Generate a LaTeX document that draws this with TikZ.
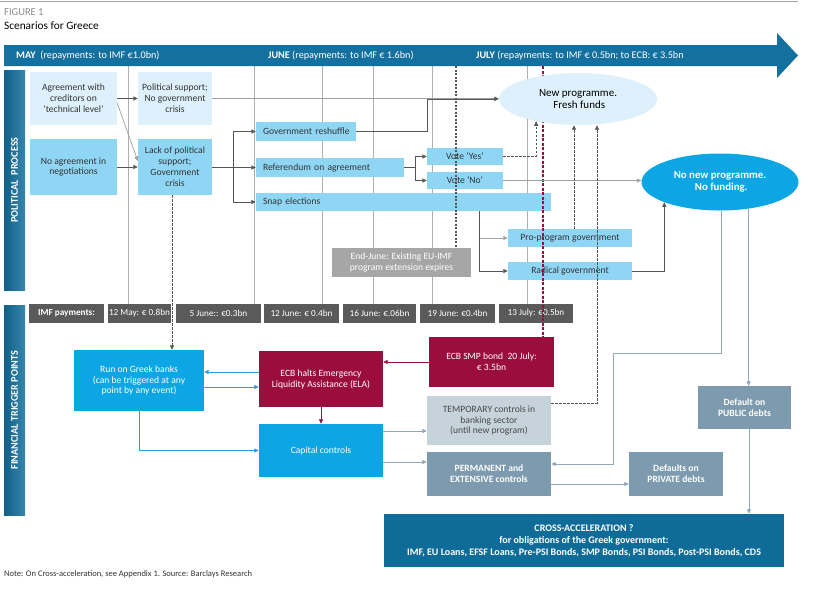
\documentclass[tikz,border=0pt]{standalone}
\usepackage{fontspec}
\setmainfont{Carlito}
\usetikzlibrary{arrows.meta,calc,shapes.geometric}
\definecolor{pale}{HTML}{DDF0FB}
\definecolor{midblue}{HTML}{8FD6F5}
\definecolor{bright}{HTML}{0CA6E4}
\definecolor{crimson}{HTML}{9A0D3C}
\definecolor{steel}{HTML}{7D9AAE}
\definecolor{tempc}{HTML}{C6D3DB}
\definecolor{tempt}{HTML}{4A4A4A}
\definecolor{paygray}{HTML}{5A5A5A}
\definecolor{endgray}{HTML}{A6A6A6}
\definecolor{crossc}{HTML}{0F6C98}
\definecolor{bandc}{HTML}{13709F}
\definecolor{gridc}{HTML}{AFAFAF}
\definecolor{darkline}{HTML}{555555}
\definecolor{lightline}{HTML}{A0A0A0}
\definecolor{bluel}{HTML}{2F9BD8}
\definecolor{steell}{HTML}{8FA7B7}
\definecolor{txt}{HTML}{333333}
\definecolor{figgray}{HTML}{8A8A8A}
\newcommand\bxf{\fontsize{9.6}{10.9}\selectfont}
\newcommand\payf{\fontsize{9.2}{10}\selectfont}
\newcommand\newf{\fontsize{11}{12.5}\selectfont}
\newcommand\nonewf{\fontsize{10.8}{12.5}\selectfont}
\newcommand\crossf{\fontsize{10}{11.8}\selectfont}
\newcommand\notef{\fontsize{8.5}{10}\selectfont}
\newcommand\bandf{\fontsize{10.2}{11}\selectfont}
\tikzset{
  base/.style={rectangle, inner sep=2pt, align=center, font=\bxf},
  pale/.style={base, fill=pale, text=txt},
  mid/.style={base, fill=midblue, text=txt},
  leftbox/.style={align=left, inner xsep=7pt},
  bright/.style={base, fill=bright, text=white},
  crim/.style={base, fill=crimson, text=white},
  steel/.style={base, fill=steel, text=white, font=\bxf\bfseries},
  pay/.style={base, fill=paygray, text=white, font=\payf, minimum height=19pt, inner xsep=0.5pt},
  tip/.style={-{Triangle[width=4pt,length=4.5pt]}},
  arrdark/.style={draw=darkline, line width=0.7pt, tip},
  arrlight/.style={draw=lightline, line width=0.7pt, tip},
  dasharr/.style={draw=darkline, line width=0.7pt, dash pattern=on 2.5pt off 1.5pt, tip},
  bluearr/.style={draw=bluel, line width=0.8pt, tip},
  crimarr/.style={draw=crimson, line width=0.8pt, tip},
  arrsteel/.style={draw=steell, line width=0.8pt, tip},
  gridline/.style={draw=gridc, line width=0.6pt},
  markdash/.style={draw=darkline, line width=1.2pt, dash pattern=on 2pt off 1.5pt},
  crimdash/.style={draw=crimson, line width=1.6pt, dash pattern=on 3pt off 1.5pt},
  bandtext/.style={anchor=west, text=white, font=\bandf, inner sep=0},
  stripetext/.style={rotate=90, text=white, font=\bandf\bfseries, inner sep=0}
}
\begin{document}
\begin{tikzpicture}[x=1pt,y=-1pt]
\useasboundingbox (0,0) rectangle (820,590);
\fill[white] (0,0) rectangle (820,590);
\draw[lightline, line width=1.2pt] (0,1.5) -- (798,1.5);
\node[anchor=west, text=figgray, font=\fontsize{10.5}{12}\selectfont, inner sep=0] (fig) at (4,12) {FIGURE 1};
\node[anchor=west, font=\fontsize{11.3}{13}\selectfont, inner sep=0] (title) at (4,25.5) {Scenarios for Greece};

% grid
\foreach \x in {128,254,322,373,432,527} \draw[gridline] (\x,66) -- (\x,304);

% timeline band
\fill[bandc] (4,45) -- (777,45) -- (777,33) -- (798,55.5) -- (777,78) -- (777,66) -- (4,66) -- cycle;
\node[bandtext] (may) at (16,55.5) {\textbf{MAY} \ (repayments: to IMF €1.0bn)};
\node[bandtext] (june) at (268,55.5) {\textbf{JUNE} (repayments: to IMF € 1.6bn)};
\node[bandtext] (july) at (476,55.5) {\textbf{JULY} (repayments: to IMF € 0.5bn; to ECB: € 3.5bn};

% stripes
\shade[left color=bandc!85!black, right color=bandc!85!white] (4,70) rectangle (25,290);
\node[stripetext] (pp) at (14.5,180) {POLITICAL \ PROCESS};
\shade[left color=bandc!85!black, right color=bandc!85!white] (4,305) rectangle (25,515);
\node[stripetext] (ftp) at (14.5,410) {FINANCIAL TRIGGER POINTS};

% political nodes
\node[pale, minimum width=87pt, minimum height=53pt] (agree) at (73.5,98.5) {Agreement with\\creditors on\\‘technical level’};
\node[pale, minimum width=74pt, minimum height=53pt] (polsup) at (175,98.5) {Political support;\\No government\\crisis};
\node[mid, minimum width=87pt, minimum height=56pt] (noagree) at (73.5,167) {No agreement in\\negotiations};
\node[mid, minimum width=74pt, minimum height=56pt] (lack) at (175,167) {Lack of political\\support;\\Government\\crisis};
\node[mid, leftbox, text width=86pt, minimum height=19pt] (reshuffle) at (306,131.5) {\mbox{Government reshuffle}};
\node[mid, leftbox, text width=134pt, minimum height=19pt] (referendum) at (330,167.5) {Referendum on agreement};
\node[mid, leftbox, text width=281pt, minimum height=18pt] (snap) at (403.5,202) {Snap elections};
\node[mid, minimum width=76pt, minimum height=17pt] (voteyes) at (465,156.5) {Vote ‘Yes’};
\node[mid, minimum width=76pt, minimum height=17pt] (voteno) at (465,180.5) {Vote ‘No’};
\node[mid, minimum width=124pt, minimum height=18pt] (proprog) at (570,238) {Pro-program government};
\node[mid, minimum width=124pt, minimum height=18pt] (radical) at (570,271) {Radical government};
\node[base, fill=endgray, text=white, minimum width=139pt, minimum height=29pt] (endjune) at (401.5,262.5) {End-June: Existing EU-IMF\\program extension expires};

% payments
\node[pay, minimum width=75pt, font=\payf\bfseries] (p0) at (66.5,313.5) {IMF payments:};
\node[pay, minimum width=63pt] (p1) at (139.5,313.5) {12 May: € 0.8bn};
\node[pay, minimum width=85pt] (p2) at (218.5,313.5) {5 June:: €0.3bn};
\node[pay, minimum width=75pt] (p3) at (301.5,313.5) {12 June: € 0.4bn};
\node[pay, minimum width=73pt] (p4) at (379.5,313.5) {16 June: €.06bn};
\node[pay, minimum width=75pt] (p5) at (457.5,313.5) {19 June: €0.4bn};
\node[pay, minimum width=74pt] (p6) at (536,313.5) {13 July: €0.5bn};

% financial nodes
\node[bright, minimum width=130pt, minimum height=61pt] (run) at (139,380.5) {Run on Greek banks\\(can be triggered at any\\point by any event)};
\node[crim, minimum width=124pt, minimum height=56pt] (ecbhalt) at (321,379) {ECB halts Emergency\\Liquidity Assistance (ELA)};
\node[bright, minimum width=124pt, minimum height=53pt] (capital) at (321,450.5) {Capital controls};
\node[crim, minimum width=125pt, minimum height=50pt] (smp) at (491.5,362) {ECB SMP bond\ \ 20 July:\\€ 3.5bn};
\node[base, fill=tempc, text=tempt, minimum width=124pt, minimum height=49pt] (temp) at (489,420.5) {TEMPORARY controls in\\banking sector\\(until new program)};
\node[steel, minimum width=124pt, minimum height=44pt] (perm) at (489,474) {PERMANENT and\\EXTENSIVE controls};
\node[steel, minimum width=94pt, minimum height=44pt] (private) at (676,474) {Defaults on\\PRIVATE debts};
\node[steel, minimum width=93pt, minimum height=43pt] (public) at (744.5,407.5) {Default on\\PUBLIC debts};
\node[base, fill=crossc, text=white, font=\crossf\bfseries, minimum width=400pt, minimum height=53pt] (cross) at (584,540.5) {CROSS-ACCELERATION ?\\for obligations of the Greek government:\\IMF, EU Loans, EFSF Loans, Pre-PSI Bonds, SMP Bonds, PSI Bonds, Post-PSI Bonds, CDS};
\node[anchor=west, font=\notef, text=txt, inner sep=0] (note) at (4,574) {Note: On Cross-acceleration, see Appendix 1. Source: Barclays Research};

% July marker (under the ellipse, over the boxes)
\coordinate (ctop) at (543,66);
\draw[crimdash] (ctop) -- (ctop |- smp.north);

% outcome ellipses
\node[ellipse, fill=pale, text=black, minimum width=158pt, minimum height=52pt, inner sep=0pt, align=center, font=\newf] (newprog) at (578,99) {New programme.\\ \ Fresh funds};
\node[ellipse, fill=bright, text=white, minimum width=157pt, minimum height=57pt, inner sep=0pt, align=center, font=\nonewf\bfseries] (nonew) at (720,182) {No new programme.\\ \ No funding.};

% political connectors
\draw[arrdark] (agree.east) -- (polsup.west);
\draw[arrlight] ($(agree.east)+(0,4.5)$) -- ($(lack.west)+(0,-6)$);
\draw[arrdark] (noagree.east) -- (lack.west);
\draw[arrlight] (polsup.east) -- (polsup.east -| newprog.west);
\coordinate (k1) at (427,131.5);
\draw[arrdark] (reshuffle.east) -- (k1) |- (newprog.west);
\coordinate (b1) at (233,167);
\draw[arrdark] (lack.east) -- (b1) |- (reshuffle.west);
\draw[arrdark] (b1) -- (b1 |- referendum.west) -- (referendum.west);
\draw[arrdark] (b1) |- (snap.west);
\coordinate (b2) at (415,167.5);
\draw[arrdark] (referendum.east) -- (b2) |- (voteyes.west);
\draw[arrdark] (b2) |- (voteno.west);
\draw[dasharr] (voteyes.east) -| (newprog.208);
\draw[arrlight] (voteno.east) -- (voteno.east -| nonew.west);
\coordinate (b3) at (479,211);
\draw[arrlight] (b3) |- (proprog.west);
\draw[arrdark] (b3) |- (radical.west);
\draw[dasharr] ([xshift=4pt]proprog.north) -- ([xshift=-4pt]newprog.south);
\draw[arrdark] (radical.east) -| (nonew.200);

% financial connectors
\draw[dasharr] ([xshift=-3pt]lack.south) -- ([xshift=-3pt]lack.south |- run.north);
\coordinate (e1) at ($(ecbhalt.west)+(0,-7)$);
\draw[bluearr] (e1) -- (e1 -| run.east);
\coordinate (e2) at ($(ecbhalt.west)+(0,8)$);
\draw[bluearr] (e2 -| run.east) -- (e2);
\draw[crimarr] (ecbhalt.south) -- (capital.north);
\draw[bluearr] (run.south) |- (capital.west);
\draw[crimarr] (smp.west) -- (smp.west -| ecbhalt.east);
\coordinate (c1) at ($(capital.east)+(0,-19.5)$);
\draw[arrsteel] (c1) -- (c1 -| temp.west);
\coordinate (c2) at ($(capital.east)+(0,11.5)$);
\draw[arrsteel] (c2) -- (c2 -| perm.west);
\coordinate (c3) at ($(perm.east)+(0,10)$);
\draw[arrsteel] (c3) -- (c3 -| private.west);
\coordinate (t1) at ($(temp.east)+(0,-17.5)$);
\draw[dasharr] (t1) -| ([xshift=19pt]newprog.south);
\draw[arrsteel] (nonew.317.6) -- (nonew.317.6 |- public.north);
\coordinate (k2) at (721,353);
\coordinate (k3) at (613,353);
\coordinate (p1e) at ($(perm.east)+(0,-10)$);
\draw[arrsteel] ([xshift=1pt]nonew.south) -- (k2) -- (k3) |- (p1e);
\draw[arrsteel] ([xshift=4.5pt]public.south) -- ([xshift=4.5pt]public.south |- cross.north);

% June marker
\coordinate (jtop) at (456,66);
\draw[markdash] (jtop) -- (jtop |- endjune.north);
\end{tikzpicture}
\end{document}
